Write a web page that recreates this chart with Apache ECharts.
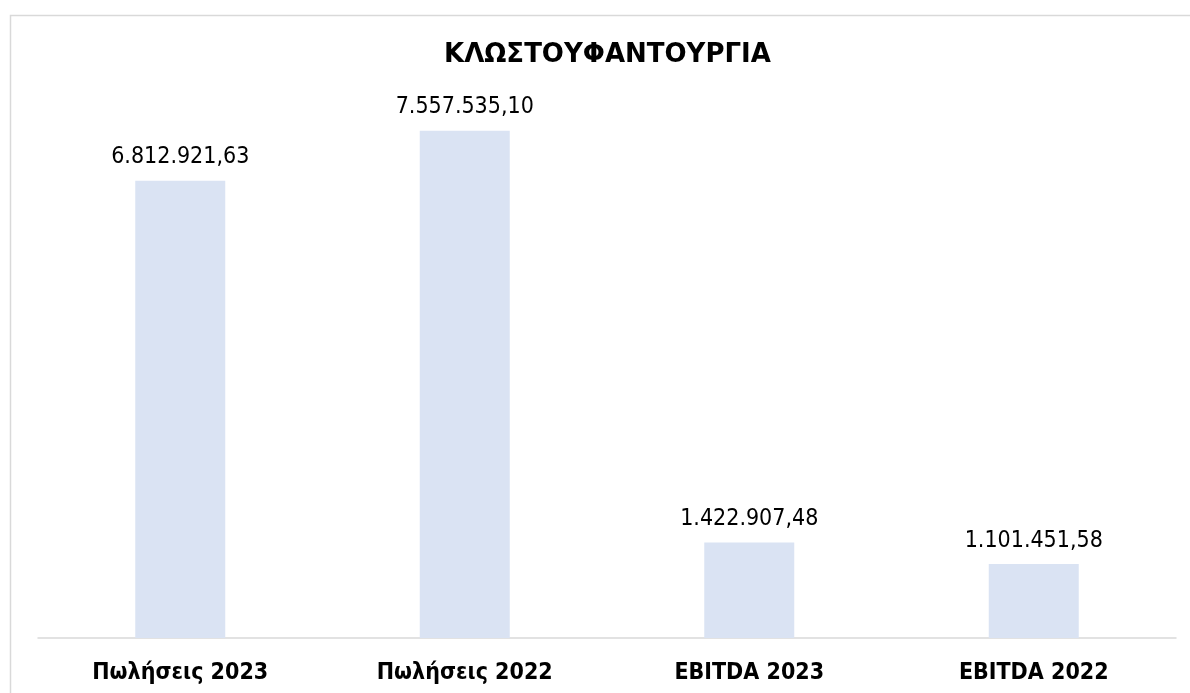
<!DOCTYPE html>
<html><head><meta charset="utf-8">
<script src="https://cdn.jsdelivr.net/npm/echarts@6/dist/echarts.min.js"></script>
<style>html,body{margin:0;padding:0;background:#fff}#c{width:1190px;height:693px}</style>
</head><body><div id="c"></div>
<script>
const categories = ['Πωλήσεις 2023', 'Πωλήσεις 2022', 'EBITDA 2023', 'EBITDA 2022'];
const values = [6812921.63, 7557535.10, 1422907.48, 1101451.58];
const titleText = 'ΚΛΩΣΤΟΥΦΑΝΤΟΥΡΓΙΑ';

function fmt(v) {
  const parts = v.toFixed(2).split('.');
  return parts[0].replace(/\B(?=(\d{3})+(?!\d))/g, '.') + ',' + parts[1];
}

const chart = echarts.init(document.getElementById('c'), null, {renderer: 'canvas'});
chart.setOption({
  animation: false,
  backgroundColor: '#fff',
  graphic: [{
    type: 'rect', left: 8, top: 13,
    shape: {width: 1200, height: 700},
    style: {fill: 'none', stroke: '#d9d9d9', lineWidth: 1.5}
  }, {
    type: 'text', left: 444, top: 42,
    style: {text: titleText, font: 'bold 26px "DejaVu Sans"', fill: '#000'}
  }],
  grid: {left: 38, right: 14, top: 101, bottom: 55, containLabel: false},
  xAxis: {
    type: 'category', data: categories,
    axisLine: {lineStyle: {color: '#d9d9d9', width: 1.5}},
    axisTick: {show: false},
    axisLabel: {fontFamily: 'DejaVu Sans Condensed', fontWeight: 'bold', fontSize: 23, color: '#000', margin: 24}
  },
  yAxis: {
    type: 'value', min: 0, max: 8000000, show: false, splitLine: {show: false}
  },
  series: [{
    type: 'bar', data: values, barWidth: 90,
    itemStyle: {color: '#dae3f3'},
    label: {
      show: true, position: 'top', distance: 12,
      fontFamily: 'DejaVu Sans Condensed', fontSize: 23, color: '#000',
      formatter: p => fmt(p.value)
    }
  }]
});
</script></body></html>
